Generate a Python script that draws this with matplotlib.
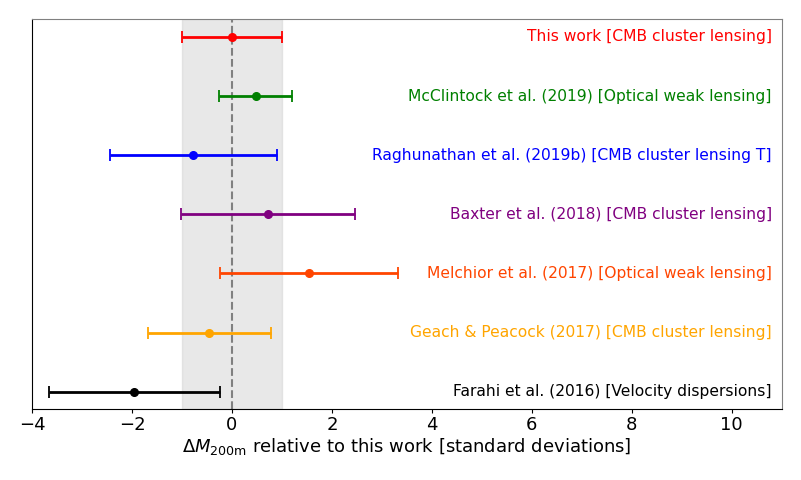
import matplotlib.pyplot as plt
import numpy as np

labels = ['This work [CMB cluster lensing]',
          'McClintock et al. (2019) [Optical weak lensing]',
          'Raghunathan et al. (2019b) [CMB cluster lensing T]',
          'Baxter et al. (2018) [CMB cluster lensing]',
          'Melchior et al. (2017) [Optical weak lensing]',
          'Geach & Peacock (2017) [CMB cluster lensing]',
          'Farahi et al. (2016) [Velocity dispersions]']
colors = ['red', 'green', 'blue', 'purple', 'orangered', 'orange', 'black']
centers = [0.0, 0.475, -0.78, 0.715, 1.55, -0.455, -1.97]
lower = [-1.0, -0.25, -2.45, -1.02, -0.24, -1.68, -3.67]
upper = [1.0, 1.2, 0.91, 2.46, 3.33, 0.78, -0.235]

fig = plt.figure(figsize=(8.01, 4.8), dpi=100)
ax = fig.add_axes([0.04, 0.147, 0.936, 0.813])

ax.axvspan(-1, 1, color='lightgray', alpha=0.5, zorder=0)
ax.axvline(0, color='gray', ls='--', lw=1.5, zorder=1)

n = len(labels)
for i in range(n):
    y = n - 1 - i
    c = centers[i]
    ax.errorbar(c, y, xerr=[[c - lower[i]], [upper[i] - c]], fmt='o',
                color=colors[i], ms=5.5, elinewidth=2, capsize=4, capthick=1.3, zorder=3)
    ax.text(10.8, y, labels[i], color=colors[i], ha='right', va='center', fontsize=11.2)

ax.set_xlim(-4, 11)
ax.set_ylim(-0.3, 6.3)
ax.set_yticks([])
ax.set_xticks(np.arange(-4, 11, 2))
ax.tick_params(axis='x', labelsize=13, length=3, pad=2)
ax.set_xlabel(r'$\Delta M_{\rm 200m}$ relative to this work [standard deviations]',
              fontsize=13, labelpad=1)
ax.spines['top'].set_color('gray')
ax.spines['right'].set_color('gray')

plt.savefig('out.png', dpi=100)
